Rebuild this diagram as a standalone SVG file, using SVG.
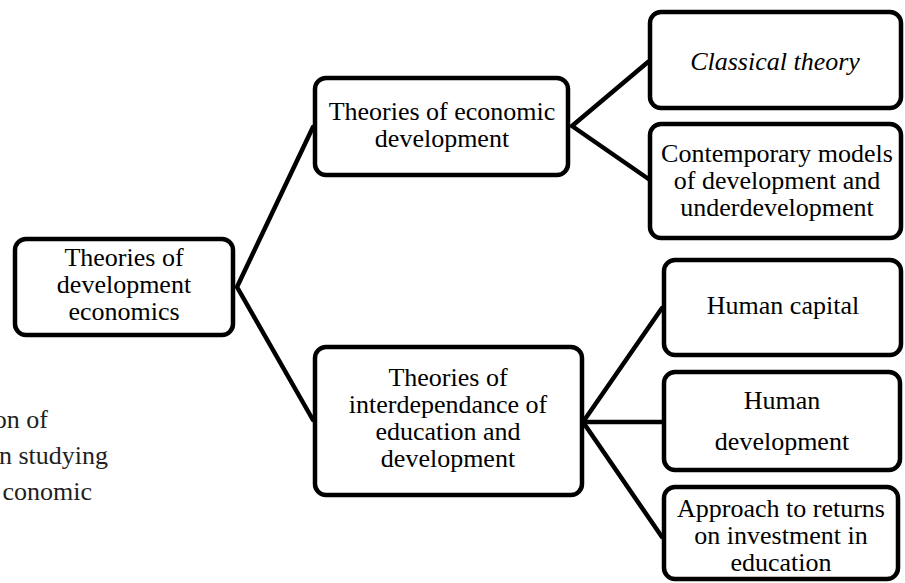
<svg xmlns="http://www.w3.org/2000/svg" width="905" height="583" viewBox="0 0 905 583">
<style>
.box{fill:#fff;stroke:#000;stroke-width:4.5}
.t{font-family:'Liberation Serif','DejaVu Serif',serif;font-size:26px;fill:#000;text-anchor:middle}
.i{font-style:italic}
.body{font-family:'Liberation Serif','DejaVu Serif',serif;font-size:26px;fill:#231f20;text-anchor:end}
.c{stroke:#000;stroke-width:4.5;fill:none;stroke-linecap:round;stroke-linejoin:round}
</style>
<rect width="905" height="583" fill="#fff"/>
<g id="body-text">
<text class="body" x="48" y="428">on of</text>
<text class="body" x="108" y="464">n studying</text>
<text class="body" x="92" y="500">conomic</text>
</g>
<g id="connectors">
<polyline class="c" points="313,127 237,287 313,420"/>
<polyline class="c" points="648,62 572,126 650,180"/>
<polyline class="c" points="662,308 583,422 662,537"/>
<line class="c" x1="583" y1="422" x2="662" y2="422"/>
</g>
<g id="root">
<rect class="box" x="15" y="239" width="218" height="96" rx="11"/>
<text class="t" x="124" y="266">Theories of</text>
<text class="t" x="124" y="293">development</text>
<text class="t" x="124" y="320">economics</text>
</g>
<g id="economic">
<rect class="box" x="315" y="78" width="253" height="97" rx="11"/>
<text class="t" x="442" y="120">Theories of economic</text>
<text class="t" x="442" y="147">development</text>
</g>
<g id="interdependance">
<rect class="box" x="315" y="347" width="267" height="148" rx="11"/>
<text class="t" x="448" y="386">Theories of</text>
<text class="t" x="448" y="413">interdependance of</text>
<text class="t" x="448" y="440">education and</text>
<text class="t" x="448" y="467">development</text>
</g>
<g id="classical">
<rect class="box" x="650" y="12" width="251" height="96" rx="11"/>
<text class="t i" x="775" y="70">Classical theory</text>
</g>
<g id="contemporary">
<rect class="box" x="650" y="124" width="251" height="114" rx="11"/>
<text class="t" x="777" y="162">Contemporary models</text>
<text class="t" x="777" y="189">of development and</text>
<text class="t" x="777" y="216">underdevelopment</text>
</g>
<g id="human-capital">
<rect class="box" x="664" y="260" width="237" height="95" rx="11"/>
<text class="t" x="783" y="314">Human capital</text>
</g>
<g id="human-development">
<rect class="box" x="664" y="372" width="236" height="98" rx="11"/>
<text class="t" x="782" y="409">Human</text>
<text class="t" x="782" y="450">development</text>
</g>
<g id="returns">
<rect class="box" x="664" y="487" width="234" height="92" rx="11"/>
<text class="t" x="781" y="517">Approach to returns</text>
<text class="t" x="781" y="544">on investment in</text>
<text class="t" x="781" y="571">education</text>
</g>
</svg>
